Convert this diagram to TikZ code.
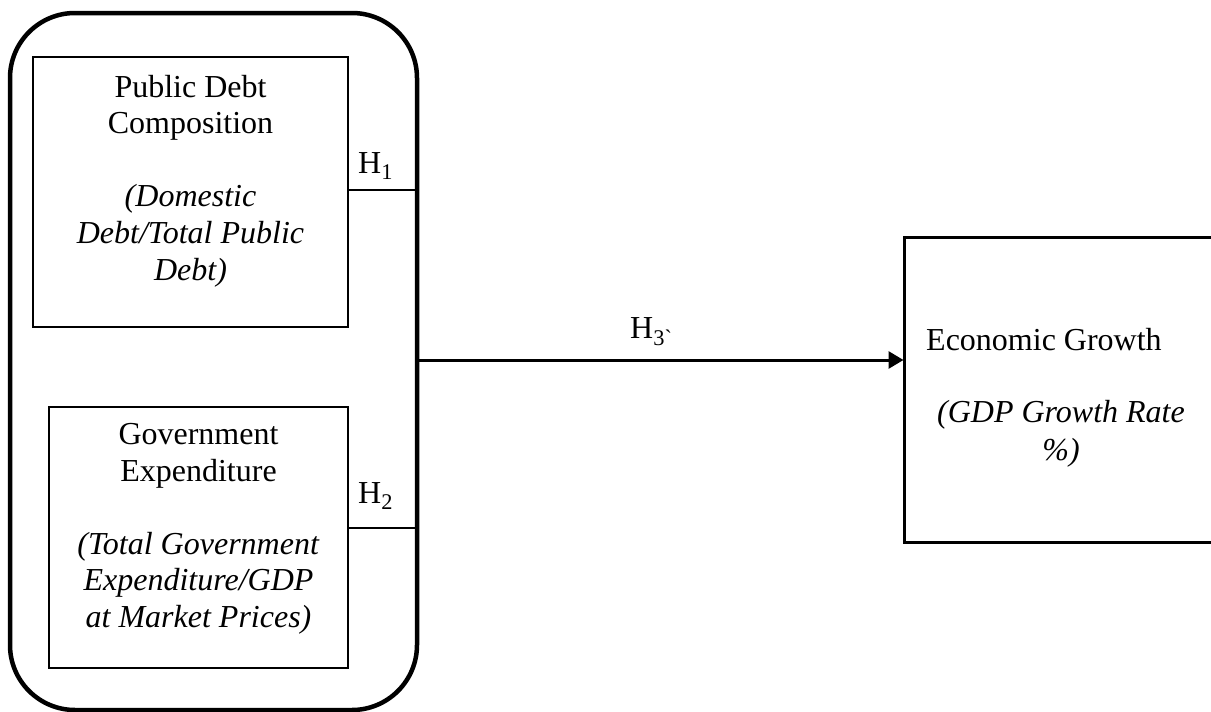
\documentclass[tikz,border=0pt]{standalone}
\usepackage{fontspec}
\setmainfont{Liberation Serif}
\usetikzlibrary{arrows.meta}
\begin{document}
\begin{tikzpicture}[x=1pt,y=-1pt,
  txt/.style={font=\fontsize{32}{36.6}\selectfont, inner sep=0pt, align=center, anchor=base},
  lbl/.style={font=\fontsize{32}{36.6}\selectfont, inner sep=0pt, anchor=base west},
  inbox/.style={draw, line width=1.5pt, inner sep=0pt},
  thinline/.style={line width=1.5pt},
  arrowline/.style={line width=3pt, -{Triangle[length=15pt,width=17pt]}, shorten >=-1pt}]
\useasboundingbox (0,0) rectangle (1211,712);
% outer rounded frame
\node[draw, line width=4.5pt, rounded corners=65pt, minimum width=407pt, minimum height=697pt, inner sep=0pt] (outer) at (213.5,361.5) {};
% inner boxes
\node[inbox, minimum width=315pt, minimum height=270pt] (b1) at (190.5,192) {};
\node[inbox, minimum width=299pt, minimum height=261pt] (b2) at (198.5,537.5) {};
% outcome box
\node[draw, line width=3pt, inner sep=0pt, minimum width=312pt, minimum height=305pt] (econ) at (1060,389.5) {};
% texts (base anchor = baseline of the last line)
\node[txt] (t1) at (190.5,280) {Public Debt\\Composition\\[36.6pt]\textit{(Domestic}\\\textit{Debt/Total Public}\\\textit{Debt)}};
\node[txt] (t2) at (198.5,627.5) {Government\\Expenditure\\[36.6pt]\textit{(Total Government}\\\textit{Expenditure/GDP}\\\textit{at Market Prices)}};
\node[lbl] (t3) at (926,350) {Economic Growth};
\node[txt] (t4) at (1061,460) {\textit{(GDP Growth Rate}\\[1.4pt]\textit{\%)}};
% hypothesis labels
\node[lbl] (h1t) at (358,173) {H\textsubscript{1}};
\node[lbl] (h2t) at (358,503) {H\textsubscript{2}};
\node[lbl] (h3t) at (630,338) {H\textsubscript{3\textasciigrave}};
% connectors
\coordinate (h1) at (0,190);
\coordinate (h2) at (0,528);
\coordinate (a) at (0,360);
\draw[thinline] (b1.east |- h1) -- (outer.east |- h1);
\draw[thinline] (b2.east |- h2) -- (outer.east |- h2);
\draw[arrowline] (outer.east |- a) -- (econ.west |- a);
\end{tikzpicture}
\end{document}
